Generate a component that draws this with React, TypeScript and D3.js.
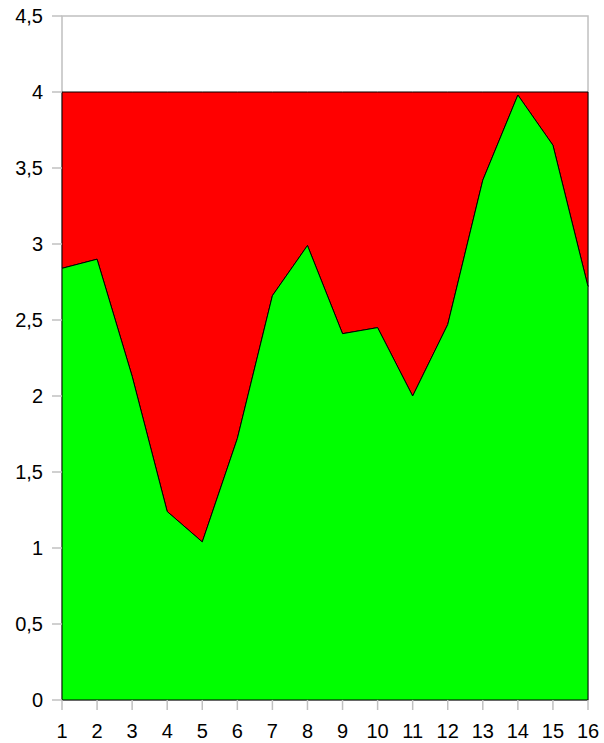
import { useEffect, useRef } from "react";
import * as d3 from "d3";

const xValues = [1, 2, 3, 4, 5, 6, 7, 8, 9, 10, 11, 12, 13, 14, 15, 16];
const greenValues = [2.84, 2.9, 2.13, 1.24, 1.04, 1.72, 2.66, 2.99, 2.41, 2.45, 2.0, 2.47, 3.42, 3.98, 3.65, 2.72];
const totalValue = 4;
const yTicks = [0, 0.5, 1, 1.5, 2, 2.5, 3, 3.5, 4, 4.5];

export default function App() {
  const svgRef = useRef<SVGSVGElement>(null);

  useEffect(() => {
    if (!svgRef.current) return;
    const svg = d3.select(svgRef.current);
    svg.selectAll("*").remove();

    const margin = { top: 16, right: 16, bottom: 43, left: 62 };
    const width = 604;
    const height = 743;

    const x = d3.scaleLinear().domain([1, 16]).range([margin.left, width - margin.right]);
    const y = d3.scaleLinear().domain([0, 4.5]).range([height - margin.bottom, margin.top]);

    const data = xValues.map((v, i) => ({ x: v, g: greenValues[i] }));

    const g = svg.append("g");

    // plot frame
    g.append("rect")
      .attr("x", x(1))
      .attr("y", y(4.5))
      .attr("width", x(16) - x(1))
      .attr("height", y(0) - y(4.5))
      .attr("fill", "none")
      .attr("stroke", "#c0c0c0")
      .attr("stroke-width", 1.5);

    // red: from green up to total
    const redArea = d3
      .area<{ x: number; g: number }>()
      .x((d) => x(d.x))
      .y0((d) => y(d.g))
      .y1(() => y(totalValue));

    g.append("path")
      .datum(data)
      .attr("d", redArea)
      .attr("fill", "#ff0000")
      .attr("stroke", "#000")
      .attr("stroke-width", 1);

    const greenArea = d3
      .area<{ x: number; g: number }>()
      .x((d) => x(d.x))
      .y0(() => y(0))
      .y1((d) => y(d.g));

    g.append("path")
      .datum(data)
      .attr("d", greenArea)
      .attr("fill", "#00ff00")
      .attr("stroke", "#000")
      .attr("stroke-width", 1);

    // y ticks
    yTicks.forEach((t) => {
      g.append("line")
        .attr("x1", x(1) - 10)
        .attr("x2", x(1))
        .attr("y1", y(t))
        .attr("y2", y(t))
        .attr("stroke", "#c0c0c0")
        .attr("stroke-width", 1.5);
      g.append("text")
        .attr("x", x(1) - 19)
        .attr("y", y(t))
        .attr("dy", "0.36em")
        .attr("text-anchor", "end")
        .attr("font-family", "Liberation Sans, Arial, sans-serif")
        .attr("font-size", "20px")
        .attr("fill", "#000")
        .text(String(t).replace(".", ","));
    });

    // x ticks
    xValues.forEach((v) => {
      g.append("line")
        .attr("x1", x(v))
        .attr("x2", x(v))
        .attr("y1", y(0))
        .attr("y2", y(0) + 10)
        .attr("stroke", "#c0c0c0")
        .attr("stroke-width", 1.5);
      g.append("text")
        .attr("x", x(v))
        .attr("y", 738)
        .attr("text-anchor", "middle")
        .attr("font-family", "Liberation Sans, Arial, sans-serif")
        .attr("font-size", "20px")
        .attr("fill", "#000")
        .text(String(v));
    });
  }, []);

  return (
    <svg
      ref={svgRef}
      width={604}
      height={743}
      style={{ position: "absolute", left: 0, top: 0, background: "#fff" }}
    />
  );
}
